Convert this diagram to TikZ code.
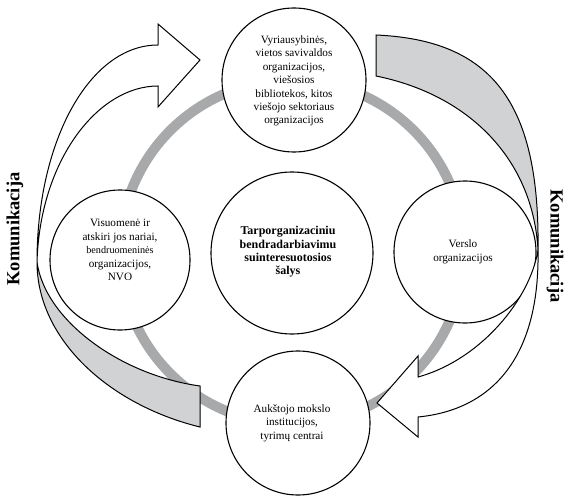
\documentclass[tikz,border=0pt]{standalone}
\usepackage{fontspec}
\setmainfont{Liberation Serif}
\definecolor{ringgray}{RGB}{167,169,171}
\definecolor{bandgray}{RGB}{209,210,212}
\begin{document}
\begin{tikzpicture}[x=1pt,y=-1pt,
  org/.style={circle, draw, line width=1.1pt, fill=white, inner sep=0pt},
  txt/.style={align=center, font=\fontsize{11.2}{13.4}\selectfont, inner sep=0pt},
  kom/.style={font=\bfseries\fontsize{18.5}{18.5}\selectfont, inner sep=0pt},
  band/.style={draw, line width=1pt, fill=bandgray, line join=miter},
  whitearrow/.style={draw, line width=1pt, fill=white, line join=miter}]
\useasboundingbox (0,0) rectangle (576,500);
% ring
\draw[ringgray, line width=10pt] (292,252) circle (172pt);
% circles
\node[org, minimum size=144pt] (top) at (294,80) {};
\node[org, minimum size=140pt] (left) at (120,260) {};
\node[org, minimum size=142pt] (right) at (465,252) {};
\node[org, minimum size=144pt] (bottom) at (298,423) {};
\node[org, minimum size=162pt] (mid) at (292,253) {};
% texts
\node[txt] (ttop) at (294,81) {Vyriausybinės,\\vietos savivaldos\\organizacijos,\\viešosios\\bibliotekos, kitos\\viešojo sektoriaus\\organizacijos};
\node[txt] (tleft) at (120,250) {Visuomenė ir\\atskiri jos nariai,\\{\fontsize{10.2}{12}\selectfont bendruomeninės}\\organizacijos,\\NVO};
\node[txt] (tright) at (463,252) {Verslo\\organizacijos};
\node[txt] (tbottom) at (292,423) {Aukštojo mokslo\\institucijos,\\tyrimų centrai};
\node[txt, font=\bfseries\fontsize{12}{13.4}\selectfont] (tmid) at (288,252) {Tarporganizaciniu\\bendradarbiavimu\\suinteresuotosios\\šalys};
% left ribbon: grey tail
\draw[band] (37,262) .. controls (37,340) and (110,405) .. (200,427)
  -- (200,386) .. controls (120,375) and (45,320) .. (37,262) -- cycle;
% left ribbon: white arrow
\draw[whitearrow] (37,262) .. controls (37,140) and (90,45) .. (158,45)
  -- (158,24) -- (200,60) -- (158,107) -- (158,86)
  .. controls (98,86) and (40,160) .. (37,262) -- cycle;
% right ribbon: grey tail
\draw[band] (376,35) .. controls (490,40) and (540,100) .. (538,250)
  .. controls (533,160) and (470,95) .. (376,76) -- cycle;
% right ribbon: white arrow
\draw[whitearrow] (538,250) .. controls (540,360) and (490,410) .. (418,417)
  -- (418,437) -- (377,403) -- (418,356) -- (418,377)
  .. controls (480,360) and (530,300) .. (538,250) -- cycle;
% labels
\node[kom, rotate=90] (kleft) at (15,229) {Komunikacija};
\node[kom, rotate=-90] (kright) at (555,246) {Komunikacija};
\end{tikzpicture}
\end{document}
